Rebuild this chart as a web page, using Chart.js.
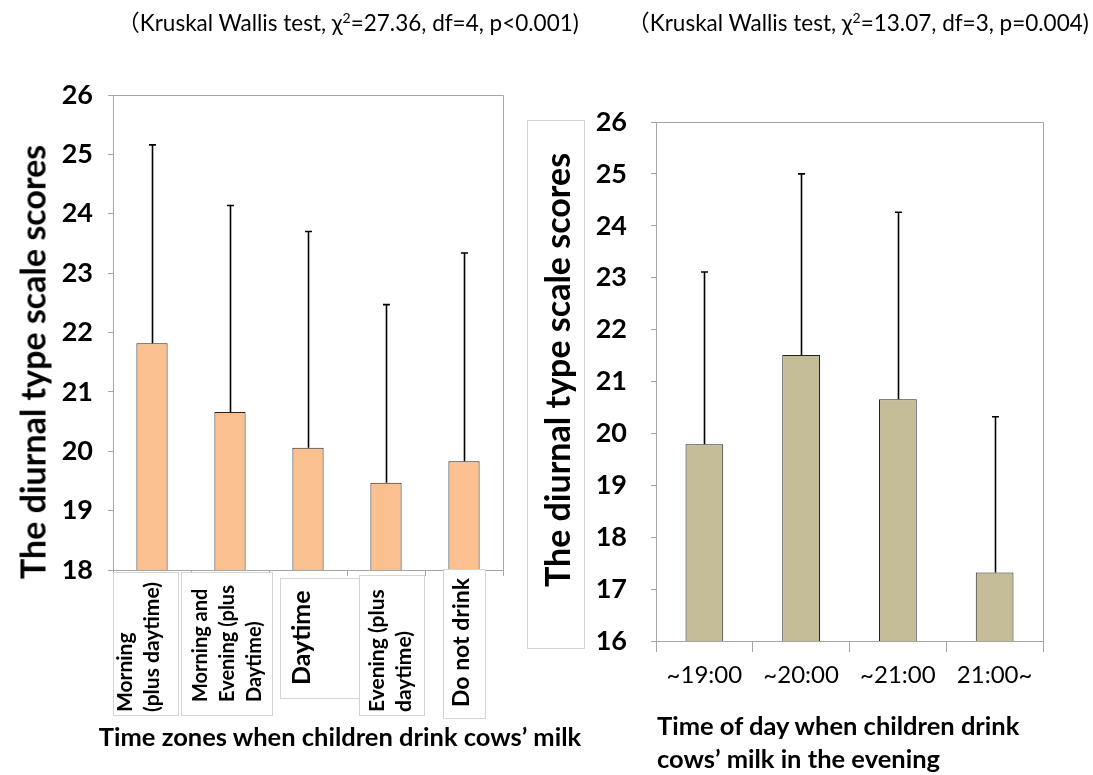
<!DOCTYPE html>
<html>
<head>
<meta charset="utf-8">
<script src="https://cdn.jsdelivr.net/npm/chart.js@4.4.1/dist/chart.umd.min.js"></script>
<style>
  html, body { margin: 0; padding: 0; background: #fff; }
  body { width: 1093px; height: 775px; position: relative; overflow: hidden; font-family: Lato, "Open Sans", sans-serif; }
  canvas { position: absolute; top: 0; }
  #cL { left: 0; }
  #cR { left: 520px; }
  .t { position: absolute; white-space: nowrap; color: #000; }
  .note { font-size: 22.5px; transform: translate(-50%, -50%); }
  .note .fw { font-family: "Noto Sans CJK JP", sans-serif; }
  .note sup { font-size: 14px; vertical-align: 8px; line-height: 0; }
  .ytitle { font-size: 34px; font-weight: bold; transform: translate(-50%, -50%) rotate(-90deg); }
  .xtitle { font-size: 25.5px; font-weight: bold; }
  #ybox { position: absolute; left: 527px; top: 120px; width: 56px; height: 527px; border: 1px solid #d4d4d4; }
</style>
</head>
<body>
<canvas id="cL" width="520" height="775"></canvas>
<canvas id="cR" width="573" height="775"></canvas>
<div id="ybox"></div>
<div class="t note" style="left:348px;top:21px"><span class="fw">（</span>Kruskal Wallis test, χ<sup>2</sup>=27.36, df=4, p&lt;0.001)</div>
<div class="t note" style="left:858px;top:21px"><span class="fw">（</span>Kruskal Wallis test, χ<sup>2</sup>=13.07, df=3, p=0.004)</div>
<div class="t ytitle" style="left:32px;top:362px">The diurnal type scale scores</div>
<div class="t ytitle" style="left:556px;top:370px">The diurnal type scale scores</div>
<div class="t xtitle" style="left:340px;top:736px;transform:translate(-50%,-50%)">Time zones when children drink cows’ milk</div>
<div class="t xtitle" style="left:657px;top:709px;line-height:33px">Time of day when children drink<br>cows’ milk in the evening</div>

<script>
// ---- data ----
const zoneCategories = [
  ["Morning", "(plus daytime)"],
  ["Morning and", "Evening (plus", "Daytime)"],
  ["Daytime"],
  ["Evening (plus", "daytime)"],
  ["Do not drink"]
];
const zoneMeans    = [21.82, 20.66, 20.06, 19.47, 19.83];
const zoneErrorTop = [25.16, 24.14, 23.70, 22.47, 23.34];

const timeCategories = ["~19:00", "~20:00", "~21:00", "21:00~"];
const timeMeans      = [19.79, 21.51, 20.66, 17.32];
const timeErrorTop   = [23.11, 25.00, 24.26, 20.32];

const zoneTicks = { min: 18, max: 26, step: 1 };
const timeTicks = { min: 16, max: 26, step: 1 };

// ---- styling (label text boxes under the left chart) ----
const zoneLabelStyle = [
  { size: 21, boxW: 65, boxTop: 572, boxBottom: 715, boxDx: -7,  textDx: -13, textStart: 712 },
  { size: 20, boxW: 91, boxTop: 572, boxBottom: 715, boxDx: -4,  textDx: -2,  textStart: 702 },
  { size: 25, boxW: 79, boxTop: 578, boxBottom: 698, boxDx: 11,  textDx: -6,  textStart: 685 },
  { size: 21, boxW: 65, boxTop: 575, boxBottom: 715, boxDx: 5,   textDx: 5,   textStart: 712 },
  { size: 23, boxW: 42, boxTop: 569, boxBottom: 718, boxDx: 0,   textDx: -2,  textStart: 707 }
];

Chart.defaults.font.family = "Lato, 'Open Sans', sans-serif";
const axisGray = '#a6a6a6';

function errorAndFrame(tops) {
  return {
    id: 'errorAndFrame',
    afterDatasetsDraw(chart) {
      const { ctx, chartArea: a, scales: { y } } = chart;
      const meta = chart.getDatasetMeta(0);
      ctx.save();
      ctx.strokeStyle = axisGray;
      ctx.lineWidth = 1;
      ctx.beginPath();
      ctx.moveTo(Math.round(a.left) + 0.5, Math.round(a.top) + 0.5);
      ctx.lineTo(Math.round(a.right) + 0.5, Math.round(a.top) + 0.5);
      ctx.lineTo(Math.round(a.right) + 0.5, Math.round(a.bottom) + 0.5);
      ctx.stroke();
      ctx.strokeStyle = '#000';
      ctx.lineWidth = 1.6;
      meta.data.forEach((bar, i) => {
        const yt = y.getPixelForValue(tops[i]);
        const xb = Math.round(bar.x) + 0.5;
        ctx.beginPath();
        ctx.moveTo(xb, bar.y);
        ctx.lineTo(xb, yt);
        ctx.moveTo(xb - 3.5, yt);
        ctx.lineTo(xb + 3.5, yt);
        ctx.stroke();
      });
      ctx.restore();
    }
  };
}

const zoneLabelPlugin = {
  id: 'zoneLabels',
  afterDraw(chart) {
    const { ctx, scales: { x } } = chart;
    ctx.save();
    chart.data.labels.forEach((lines, i) => {
      const st = zoneLabelStyle[i];
      const xc = x.getPixelForValue(i);
      const gap = 27;
      const n = lines.length;
      const bx = Math.round(xc + st.boxDx - st.boxW / 2) + 0.5;
      ctx.fillStyle = '#fff';
      ctx.fillRect(bx, st.boxTop, st.boxW, st.boxBottom - st.boxTop);
      ctx.strokeStyle = '#d4d4d4';
      ctx.lineWidth = 1;
      ctx.strokeRect(bx, st.boxTop + 0.5, st.boxW, st.boxBottom - st.boxTop);
      ctx.font = `bold ${st.size}px Lato, 'Open Sans', sans-serif`;
      ctx.fillStyle = '#000';
      ctx.textAlign = 'left';
      ctx.textBaseline = 'middle';
      ctx.translate(xc + st.textDx, st.textStart);
      ctx.rotate(-Math.PI / 2);
      lines.forEach((l, j) => {
        ctx.fillText(l, 0, (j - (n - 1) / 2) * gap);
      });
      ctx.setTransform(1, 0, 0, 1, 0, 0);
    });
    ctx.restore();
  }
};

new Chart(document.getElementById('cL'), {
  type: 'bar',
  data: {
    labels: zoneCategories,
    datasets: [{
      data: zoneMeans,
      backgroundColor: '#FAC090',
      borderColor: '#222',
      borderWidth: 1,
      categoryPercentage: 1,
      barPercentage: 0.4
    }]
  },
  options: {
    responsive: false,
    animation: false,
    layout: { padding: { top: 95, right: 17, bottom: 145, left: 0 } },
    plugins: { legend: { display: false }, tooltip: { enabled: false } },
    scales: {
      x: {
        ticks: { display: false },
        grid: { drawOnChartArea: false, tickLength: 6, color: axisGray, offset: true },
        border: { color: axisGray },
        afterFit: s => { s.height = 60; }
      },
      y: {
        min: zoneTicks.min, max: zoneTicks.max,
        ticks: { stepSize: zoneTicks.step, color: '#000', padding: 15, font: { size: 27, weight: 'bold' } },
        grid: { drawOnChartArea: false, tickLength: 5, color: axisGray },
        border: { color: axisGray },
        afterFit: s => { s.width = 113; }
      }
    }
  },
  plugins: [errorAndFrame(zoneErrorTop), zoneLabelPlugin]
});

new Chart(document.getElementById('cR'), {
  type: 'bar',
  data: {
    labels: timeCategories,
    datasets: [{
      data: timeMeans,
      backgroundColor: '#C4BD97',
      borderColor: '#222',
      borderWidth: 1,
      categoryPercentage: 1,
      barPercentage: 0.39
    }]
  },
  options: {
    responsive: false,
    animation: false,
    layout: { padding: { top: 122, right: 50, bottom: 74, left: 0 } },
    plugins: { legend: { display: false }, tooltip: { enabled: false } },
    scales: {
      x: {
        ticks: { color: '#000', padding: 9, maxRotation: 0, autoSkip: false, font: { size: 24 } },
        grid: { drawOnChartArea: false, tickLength: 11, color: axisGray, offset: true },
        border: { color: axisGray },
        afterFit: s => { s.height = 60; }
      },
      y: {
        min: timeTicks.min, max: timeTicks.max,
        ticks: { stepSize: timeTicks.step, color: '#000', padding: 24, font: { size: 27, weight: 'bold' } },
        grid: { drawOnChartArea: false, tickLength: 5, color: axisGray },
        border: { color: axisGray },
        afterFit: s => { s.width = 136; }
      }
    }
  },
  plugins: [errorAndFrame(timeErrorTop)]
});
</script>
</body>
</html>
